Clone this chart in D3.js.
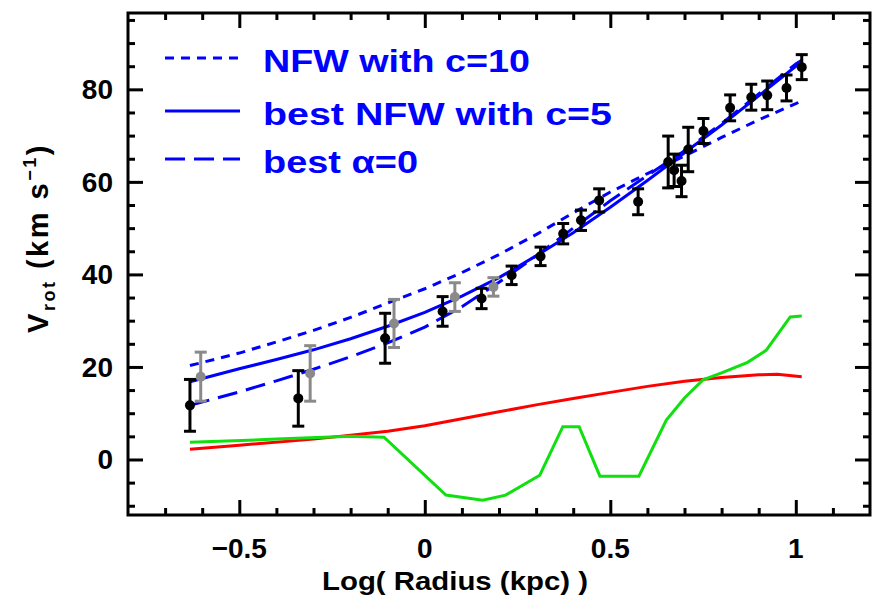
<!DOCTYPE html>
<html>
<head>
<meta charset="utf-8">
<script src="https://cdn.jsdelivr.net/npm/d3@7"></script>
<style>
  body { margin: 0; background: #fff; }
  text { font-family: "Liberation Sans", Arial, sans-serif; font-weight: bold; }
</style>
</head>
<body>
<div id="chart"></div>
<script>
// axis ticks
var xMajorTicks = [-0.5, 0, 0.5, 1];
var xTickLabels = ["\u22120.5", "0", "0.5", "1"];
var xMinorTicks = [-0.7, -0.6, -0.4, -0.3, -0.2, -0.1, 0.1, 0.2, 0.3, 0.4, 0.6, 0.7, 0.8, 0.9, 1.1];
var yMajorTicks = [0, 20, 40, 60, 80];
var yMinorTicks = [-10, -5, 5, 10, 15, 25, 30, 35, 45, 50, 55, 65, 70, 75, 85, 90, 95];

// observed rotation curve (black)
var blackX = [-0.633, -0.341, -0.107, 0.048, 0.153, 0.234, 0.312, 0.373, 0.421, 0.470, 0.575,
              0.656, 0.672, 0.692, 0.710, 0.751, 0.823, 0.880, 0.923, 0.975, 1.016];
var blackY = [11.7, 13.2, 26.2, 32.0, 34.8, 39.8, 43.9, 48.8, 51.7, 56.0, 55.7,
              64.3, 62.5, 60.2, 67.0, 71.0, 76.0, 78.3, 78.7, 80.3, 84.8];
var blackErr = [5.6, 6.0, 5.4, 3.2, 2.2, 2.0, 2.0, 2.2, 2.2, 2.5, 2.8,
                5.6, 3.5, 3.4, 4.8, 2.7, 2.8, 2.8, 3.1, 2.8, 2.7];

// corrected points (grey)
var greyX = [-0.604, -0.309, -0.083, 0.081, 0.185];
var greyY = [17.9, 18.6, 29.4, 35.1, 37.3];
var greyErr = [5.3, 6.0, 5.2, 3.1, 2.0];

// model curves
var modelX = [-0.633, -0.5, -0.4, -0.3, -0.2, -0.1, 0, 0.1, 0.2, 0.3, 0.4, 0.5, 0.6, 0.7, 0.8, 0.9, 1.0, 1.016];
var nfwC10 = [20.3, 23.0, 25.4, 27.9, 30.7, 33.8, 36.9, 40.4, 44.3, 48.6, 53.3, 57.8, 61.8, 65.6, 69.6, 73.4, 76.9, 77.5];
var nfwC5 = [16.8, 19.6, 21.6, 23.7, 26.1, 28.8, 31.8, 35.3, 39.3, 44.0, 49.0, 54.5, 60.3, 66.3, 72.3, 78.6, 85.0, 86.0];
var alpha0 = [11.7, 14.6, 17.0, 19.5, 22.2, 25.2, 28.6, 33.0, 38.3, 44.0, 50.0, 55.9, 61.4, 66.7, 72.6, 79.0, 85.5, 86.3];

// stellar disk (red)
var redX = [-0.633, -0.5, -0.3, -0.1, 0, 0.1, 0.2, 0.3, 0.4, 0.5, 0.6, 0.7, 0.8, 0.9, 0.95, 1.016];
var redY = [2.2, 3.1, 4.4, 6.1, 7.3, 8.8, 10.3, 11.8, 13.2, 14.5, 15.8, 16.9, 17.7, 18.3, 18.4, 17.9];

// gas (green)
var greenX = [-0.633, -0.4, -0.2, -0.11, 0.057, 0.156, 0.218, 0.31, 0.372, 0.416, 0.472, 0.577,
              0.651, 0.70, 0.75, 0.80, 0.87, 0.92, 0.985, 1.016];
var greenY = [3.7, 4.4, 5.0, 4.8, -7.7, -8.8, -7.7, -3.4, 7.1, 7.1, -3.6, -3.6,
              8.5, 13.3, 17.2, 18.7, 21.0, 23.6, 30.8, 31.0];

var legendLabels = ["NFW with c=10", "best NFW with c=5", "best \u03b1=0"];

function drawChart() {
    var svgWidth = 878;
    var svgHeight = 596;
    var margin = { top: 13, right: 8, bottom: 81, left: 128 };
    var width = svgWidth - margin.left - margin.right;
    var height = svgHeight - margin.top - margin.bottom;

    var svg = d3.select('#chart').append('svg')
        .attr('width', svgWidth)
        .attr('height', svgHeight);

    var g = svg.append('g')
        .attr('transform', `translate(${margin.left}, ${margin.top})`);

    var xScale = d3.scaleLinear().domain([-0.8, 1.2]).range([0, width]);
    var yScale = d3.scaleLinear().domain([-12, 96.5]).range([height, 0]);

    // model curves
    var line = d3.line().x(d => xScale(d[0])).y(d => yScale(d[1]));
    var curves = [
        { y: nfwC10, dash: '9,7' },
        { y: nfwC5, dash: null },
        { y: alpha0, dash: '20,9' }
    ];
    curves.forEach(function(c) {
        g.append('path')
            .datum(modelX.map((x, i) => [x, c.y[i]]))
            .attr('d', line)
            .attr('fill', 'none')
            .attr('stroke', '#0000ff')
            .attr('stroke-width', 3)
            .attr('stroke-dasharray', c.dash);
    });

    g.append('path')
        .datum(redX.map((x, i) => [x, redY[i]]))
        .attr('d', line)
        .attr('fill', 'none')
        .attr('stroke', '#ff0000')
        .attr('stroke-width', 3);

    g.append('path')
        .datum(greenX.map((x, i) => [x, greenY[i]]))
        .attr('d', line)
        .attr('fill', 'none')
        .attr('stroke', '#10e010')
        .attr('stroke-width', 3);

    // points with error bars
    function drawPoints(xs, ys, errs, color) {
        var pts = xs.map((x, i) => ({ x: x, y: ys[i], e: errs[i] }));
        var grp = g.append('g').attr('stroke', color).attr('fill', color).attr('stroke-width', 3);
        grp.selectAll('.bar').data(pts).enter().append('line')
            .attr('x1', d => xScale(d.x)).attr('x2', d => xScale(d.x))
            .attr('y1', d => yScale(d.y - d.e)).attr('y2', d => yScale(d.y + d.e));
        [-1, 1].forEach(function(s) {
            grp.selectAll(null).data(pts).enter().append('line')
                .attr('x1', d => xScale(d.x) - 6).attr('x2', d => xScale(d.x) + 6)
                .attr('y1', d => yScale(d.y + s * d.e)).attr('y2', d => yScale(d.y + s * d.e));
        });
        grp.selectAll('circle').data(pts).enter().append('circle')
            .attr('cx', d => xScale(d.x)).attr('cy', d => yScale(d.y))
            .attr('r', 5).attr('stroke', 'none');
    }
    drawPoints(greyX, greyY, greyErr, '#8a8a8a');
    drawPoints(blackX, blackY, blackErr, '#000');

    // axes with inward ticks on all four sides
    function ticks(axis, vals, size) {
        return axis.tickValues(vals).tickSizeInner(-size).tickSizeOuter(0).tickFormat('');
    }
    var axes = [
        { a: d3.axisBottom, s: xScale, t: `translate(0, ${height})` },
        { a: d3.axisTop, s: xScale, t: 'translate(0, 0)' },
        { a: d3.axisLeft, s: yScale, t: 'translate(0, 0)' },
        { a: d3.axisRight, s: yScale, t: `translate(${width}, 0)` }
    ];
    axes.forEach(function(ax) {
        var isX = ax.s === xScale;
        var major = isX ? xMajorTicks : yMajorTicks;
        var minor = isX ? xMinorTicks : yMinorTicks;
        [[major, 15], [minor, 7]].forEach(function(m) {
            var ag = g.append('g').attr('transform', ax.t).call(ticks(ax.a(ax.s), m[0], m[1]));
            ag.select('.domain').remove();
            ag.selectAll('line').attr('stroke', '#000').attr('stroke-width', 3);
        });
    });

    g.append('rect')
        .attr('width', width).attr('height', height)
        .attr('fill', 'none').attr('stroke', '#000').attr('stroke-width', 3);

    // tick labels
    g.selectAll('.xlab').data(xMajorTicks).enter().append('text')
        .attr('x', d => xScale(d)).attr('y', height + 43)
        .attr('text-anchor', 'middle').attr('font-size', 28)
        .text((d, i) => xTickLabels[i]);

    g.selectAll('.ylab').data(yMajorTicks).enter().append('text')
        .attr('x', -15).attr('y', d => yScale(d) + 10)
        .attr('text-anchor', 'end').attr('font-size', 28)
        .text(d => d);

    // axis titles
    svg.append('text')
        .attr('x', 455).attr('y', 590)
        .attr('text-anchor', 'middle').attr('font-size', 26)
        .attr('textLength', 266).attr('lengthAdjust', 'spacingAndGlyphs')
        .text('Log( Radius (kpc) )');

    var yt = svg.append('text')
        .attr('transform', 'translate(48, 238) rotate(-90)')
        .attr('text-anchor', 'middle').attr('font-size', 29)
        .attr('letter-spacing', 2.5);
    yt.append('tspan').text('V');
    yt.append('tspan').attr('font-size', 18).attr('dy', 7).text('rot');
    yt.append('tspan').attr('dy', -7).text(' (km s');
    yt.append('tspan').attr('font-size', 18).attr('dy', -12).text('\u22121');
    yt.append('tspan').attr('dy', 12).text(')');

    // legend
    var legendY = [58, 111, 159];
    var legendDash = ['9,7', null, '20,9'];
    legendLabels.forEach(function(lab, i) {
        svg.append('line')
            .attr('x1', 165).attr('x2', 240)
            .attr('y1', legendY[i]).attr('y2', legendY[i])
            .attr('stroke', '#0000ff').attr('stroke-width', 3)
            .attr('stroke-dasharray', legendDash[i]);
        svg.append('text')
            .attr('x', 263).attr('y', legendY[i] + 14)
            .attr('fill', '#0000ff').attr('font-size', 32)
            .attr('textLength', [267, 349, 155][i]).attr('lengthAdjust', 'spacingAndGlyphs')
            .text(lab);
    });
}

drawChart();
</script>
</body>
</html>
